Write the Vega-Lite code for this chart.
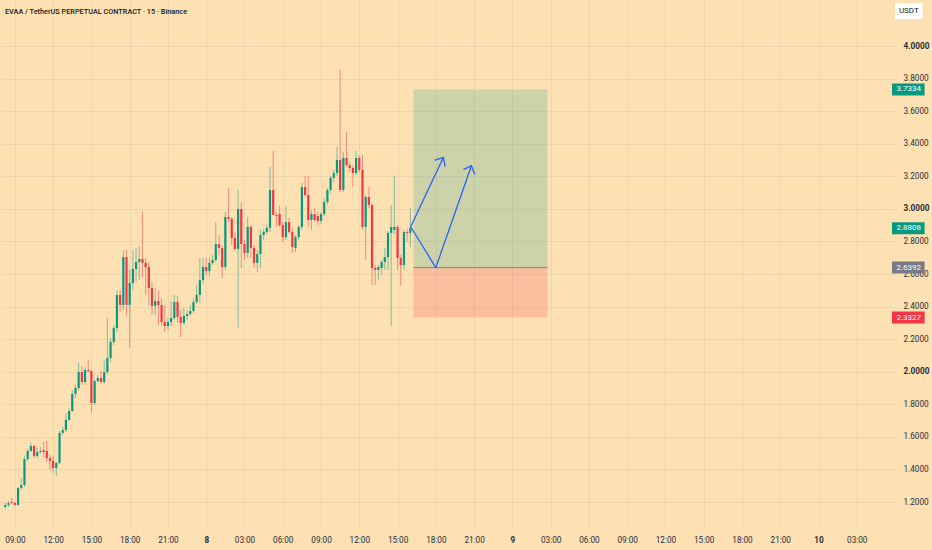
{
  "$schema": "https://vega.github.io/schema/vega-lite/v6.json",
  "width": 896,
  "height": 528,
  "autosize": "none",
  "padding": {"left": 0, "top": 0, "right": 36, "bottom": 22},
  "background": "#FDE1B3",
  "title": {"text": "EVAA / TetherUS PERPETUAL CONTRACT · 15 · Binance", "anchor": "start", "orient": "top", "frame": "group", "offset": -15, "dx": 5, "font": "Roboto", "fontSize": 7.3, "fontWeight": 500, "color": "#131722"},
  "config": {
    "font": "Roboto",
    "view": {"stroke": null},
    "axis": {"gridColor": "#2a2e39", "gridOpacity": 0.065, "ticks": false, "domain": false, "labelFont": "Roboto", "labelFontSize": 8.2, "labelColor": "#2a2e39", "labelOverlap": false, "labelFlush": false}
  },
  "datasets": {
    "candles": [
      {"t":"2025-07-07T08:15:00Z","o":1.169,"h":1.194,"l":1.157,"c":1.182},
      {"t":"2025-07-07T08:30:00Z","o":1.182,"h":1.206,"l":1.169,"c":1.194},
      {"t":"2025-07-07T08:45:00Z","o":1.200,"h":1.225,"l":1.188,"c":1.194},
      {"t":"2025-07-07T09:00:00Z","o":1.194,"h":1.200,"l":1.176,"c":1.182},
      {"t":"2025-07-07T09:15:00Z","o":1.182,"h":1.292,"l":1.176,"c":1.286},
      {"t":"2025-07-07T09:30:00Z","o":1.286,"h":1.348,"l":1.274,"c":1.305},
      {"t":"2025-07-07T09:45:00Z","o":1.305,"h":1.483,"l":1.292,"c":1.464},
      {"t":"2025-07-07T10:00:00Z","o":1.464,"h":1.526,"l":1.452,"c":1.513},
      {"t":"2025-07-07T10:15:00Z","o":1.513,"h":1.562,"l":1.507,"c":1.544},
      {"t":"2025-07-07T10:30:00Z","o":1.544,"h":1.550,"l":1.470,"c":1.483},
      {"t":"2025-07-07T10:45:00Z","o":1.483,"h":1.532,"l":1.470,"c":1.507},
      {"t":"2025-07-07T11:00:00Z","o":1.507,"h":1.538,"l":1.495,"c":1.513},
      {"t":"2025-07-07T11:15:00Z","o":1.519,"h":1.569,"l":1.476,"c":1.507},
      {"t":"2025-07-07T11:30:00Z","o":1.513,"h":1.575,"l":1.446,"c":1.470},
      {"t":"2025-07-07T11:45:00Z","o":1.470,"h":1.489,"l":1.397,"c":1.452},
      {"t":"2025-07-07T12:00:00Z","o":1.452,"h":1.483,"l":1.378,"c":1.409},
      {"t":"2025-07-07T12:15:00Z","o":1.409,"h":1.446,"l":1.360,"c":1.440},
      {"t":"2025-07-07T12:30:00Z","o":1.440,"h":1.636,"l":1.433,"c":1.624},
      {"t":"2025-07-07T12:45:00Z","o":1.624,"h":1.661,"l":1.612,"c":1.642},
      {"t":"2025-07-07T13:00:00Z","o":1.642,"h":1.747,"l":1.630,"c":1.704},
      {"t":"2025-07-07T13:15:00Z","o":1.704,"h":1.777,"l":1.698,"c":1.759},
      {"t":"2025-07-07T13:30:00Z","o":1.759,"h":1.888,"l":1.753,"c":1.863},
      {"t":"2025-07-07T13:45:00Z","o":1.863,"h":1.919,"l":1.839,"c":1.900},
      {"t":"2025-07-07T14:00:00Z","o":1.900,"h":2.054,"l":1.888,"c":1.998},
      {"t":"2025-07-07T14:15:00Z","o":1.998,"h":2.035,"l":1.919,"c":1.937},
      {"t":"2025-07-07T14:30:00Z","o":1.937,"h":2.029,"l":1.919,"c":2.011},
      {"t":"2025-07-07T14:45:00Z","o":2.011,"h":2.072,"l":1.998,"c":2.004},
      {"t":"2025-07-07T15:00:00Z","o":2.004,"h":2.011,"l":1.747,"c":1.808},
      {"t":"2025-07-07T15:15:00Z","o":1.808,"h":1.955,"l":1.796,"c":1.943},
      {"t":"2025-07-07T15:30:00Z","o":1.943,"h":1.980,"l":1.931,"c":1.962},
      {"t":"2025-07-07T15:45:00Z","o":1.962,"h":2.004,"l":1.925,"c":1.937},
      {"t":"2025-07-07T16:00:00Z","o":1.937,"h":2.072,"l":1.925,"c":1.998},
      {"t":"2025-07-07T16:15:00Z","o":1.998,"h":2.330,"l":1.986,"c":2.084},
      {"t":"2025-07-07T16:30:00Z","o":2.084,"h":2.207,"l":2.060,"c":2.183},
      {"t":"2025-07-07T16:45:00Z","o":2.183,"h":2.287,"l":2.164,"c":2.268},
      {"t":"2025-07-07T17:00:00Z","o":2.268,"h":2.502,"l":2.244,"c":2.471},
      {"t":"2025-07-07T17:15:00Z","o":2.471,"h":2.502,"l":2.367,"c":2.410},
      {"t":"2025-07-07T17:30:00Z","o":2.410,"h":2.747,"l":2.379,"c":2.704},
      {"t":"2025-07-07T17:45:00Z","o":2.704,"h":2.747,"l":2.348,"c":2.410},
      {"t":"2025-07-07T18:00:00Z","o":2.410,"h":2.625,"l":2.146,"c":2.545},
      {"t":"2025-07-07T18:15:00Z","o":2.545,"h":2.747,"l":2.502,"c":2.631},
      {"t":"2025-07-07T18:30:00Z","o":2.631,"h":2.760,"l":2.551,"c":2.674},
      {"t":"2025-07-07T18:45:00Z","o":2.674,"h":2.772,"l":2.563,"c":2.692},
      {"t":"2025-07-07T19:00:00Z","o":2.692,"h":2.981,"l":2.582,"c":2.668},
      {"t":"2025-07-07T19:15:00Z","o":2.668,"h":2.698,"l":2.471,"c":2.643},
      {"t":"2025-07-07T19:30:00Z","o":2.643,"h":2.674,"l":2.410,"c":2.514},
      {"t":"2025-07-07T19:45:00Z","o":2.514,"h":2.551,"l":2.348,"c":2.404},
      {"t":"2025-07-07T20:00:00Z","o":2.404,"h":2.514,"l":2.348,"c":2.434},
      {"t":"2025-07-07T20:15:00Z","o":2.434,"h":2.502,"l":2.287,"c":2.410},
      {"t":"2025-07-07T20:30:00Z","o":2.410,"h":2.453,"l":2.281,"c":2.305},
      {"t":"2025-07-07T20:45:00Z","o":2.305,"h":2.410,"l":2.244,"c":2.281},
      {"t":"2025-07-07T21:00:00Z","o":2.281,"h":2.330,"l":2.256,"c":2.305},
      {"t":"2025-07-07T21:15:00Z","o":2.305,"h":2.434,"l":2.281,"c":2.330},
      {"t":"2025-07-07T21:30:00Z","o":2.330,"h":2.471,"l":2.318,"c":2.428},
      {"t":"2025-07-07T21:45:00Z","o":2.428,"h":2.465,"l":2.299,"c":2.336},
      {"t":"2025-07-07T22:00:00Z","o":2.336,"h":2.379,"l":2.213,"c":2.299},
      {"t":"2025-07-07T22:15:00Z","o":2.299,"h":2.391,"l":2.287,"c":2.342},
      {"t":"2025-07-07T22:30:00Z","o":2.342,"h":2.379,"l":2.318,"c":2.354},
      {"t":"2025-07-07T22:45:00Z","o":2.354,"h":2.410,"l":2.342,"c":2.373},
      {"t":"2025-07-07T23:00:00Z","o":2.373,"h":2.453,"l":2.361,"c":2.428},
      {"t":"2025-07-07T23:15:00Z","o":2.428,"h":2.533,"l":2.416,"c":2.471},
      {"t":"2025-07-07T23:30:00Z","o":2.471,"h":2.698,"l":2.422,"c":2.563},
      {"t":"2025-07-07T23:45:00Z","o":2.563,"h":2.698,"l":2.539,"c":2.643},
      {"t":"2025-07-08T00:00:00Z","o":2.643,"h":2.698,"l":2.594,"c":2.618},
      {"t":"2025-07-08T00:15:00Z","o":2.618,"h":2.698,"l":2.588,"c":2.668},
      {"t":"2025-07-08T00:30:00Z","o":2.668,"h":2.717,"l":2.655,"c":2.686},
      {"t":"2025-07-08T00:45:00Z","o":2.686,"h":2.919,"l":2.674,"c":2.784},
      {"t":"2025-07-08T01:00:00Z","o":2.784,"h":2.840,"l":2.717,"c":2.760},
      {"t":"2025-07-08T01:15:00Z","o":2.760,"h":2.778,"l":2.575,"c":2.643},
      {"t":"2025-07-08T01:30:00Z","o":2.643,"h":2.981,"l":2.625,"c":2.950},
      {"t":"2025-07-08T01:45:00Z","o":2.950,"h":3.128,"l":2.919,"c":2.938},
      {"t":"2025-07-08T02:00:00Z","o":2.938,"h":2.950,"l":2.778,"c":2.821},
      {"t":"2025-07-08T02:15:00Z","o":2.821,"h":2.858,"l":2.747,"c":2.754},
      {"t":"2025-07-08T02:30:00Z","o":2.754,"h":3.116,"l":2.268,"c":2.999},
      {"t":"2025-07-08T02:45:00Z","o":2.999,"h":3.042,"l":2.637,"c":2.784},
      {"t":"2025-07-08T03:00:00Z","o":2.784,"h":2.809,"l":2.686,"c":2.729},
      {"t":"2025-07-08T03:15:00Z","o":2.729,"h":2.950,"l":2.698,"c":2.889},
      {"t":"2025-07-08T03:30:00Z","o":2.889,"h":2.901,"l":2.698,"c":2.760},
      {"t":"2025-07-08T03:45:00Z","o":2.760,"h":2.778,"l":2.637,"c":2.668},
      {"t":"2025-07-08T04:00:00Z","o":2.668,"h":2.747,"l":2.612,"c":2.723},
      {"t":"2025-07-08T04:15:00Z","o":2.723,"h":2.870,"l":2.637,"c":2.840},
      {"t":"2025-07-08T04:30:00Z","o":2.840,"h":2.876,"l":2.809,"c":2.858},
      {"t":"2025-07-08T04:45:00Z","o":2.858,"h":2.901,"l":2.846,"c":2.883},
      {"t":"2025-07-08T05:00:00Z","o":2.883,"h":3.257,"l":2.858,"c":3.116},
      {"t":"2025-07-08T05:15:00Z","o":3.116,"h":3.355,"l":3.104,"c":2.962},
      {"t":"2025-07-08T05:30:00Z","o":2.962,"h":2.981,"l":2.889,"c":2.956},
      {"t":"2025-07-08T05:45:00Z","o":2.968,"h":3.018,"l":2.889,"c":2.901},
      {"t":"2025-07-08T06:00:00Z","o":2.901,"h":2.919,"l":2.797,"c":2.827},
      {"t":"2025-07-08T06:15:00Z","o":2.827,"h":3.018,"l":2.809,"c":2.919},
      {"t":"2025-07-08T06:30:00Z","o":2.919,"h":2.944,"l":2.846,"c":2.858},
      {"t":"2025-07-08T06:45:00Z","o":2.858,"h":2.883,"l":2.729,"c":2.766},
      {"t":"2025-07-08T07:00:00Z","o":2.760,"h":2.840,"l":2.735,"c":2.827},
      {"t":"2025-07-08T07:15:00Z","o":2.827,"h":2.901,"l":2.809,"c":2.889},
      {"t":"2025-07-08T07:30:00Z","o":2.889,"h":3.159,"l":2.870,"c":3.134},
      {"t":"2025-07-08T07:45:00Z","o":3.134,"h":3.202,"l":3.073,"c":3.085},
      {"t":"2025-07-08T08:00:00Z","o":3.085,"h":3.202,"l":2.889,"c":2.932},
      {"t":"2025-07-08T08:15:00Z","o":2.932,"h":2.993,"l":2.870,"c":2.968},
      {"t":"2025-07-08T08:30:00Z","o":2.968,"h":3.005,"l":2.919,"c":2.932},
      {"t":"2025-07-08T08:45:00Z","o":2.956,"h":2.981,"l":2.901,"c":2.926},
      {"t":"2025-07-08T09:00:00Z","o":2.926,"h":2.981,"l":2.907,"c":2.968},
      {"t":"2025-07-08T09:15:00Z","o":2.968,"h":3.067,"l":2.956,"c":3.042},
      {"t":"2025-07-08T09:30:00Z","o":3.042,"h":3.128,"l":3.024,"c":3.116},
      {"t":"2025-07-08T09:45:00Z","o":3.116,"h":3.202,"l":3.097,"c":3.190},
      {"t":"2025-07-08T10:00:00Z","o":3.190,"h":3.239,"l":3.165,"c":3.220},
      {"t":"2025-07-08T10:15:00Z","o":3.220,"h":3.380,"l":3.202,"c":3.300},
      {"t":"2025-07-08T10:30:00Z","o":3.300,"h":3.853,"l":3.104,"c":3.116},
      {"t":"2025-07-08T10:45:00Z","o":3.116,"h":3.349,"l":3.104,"c":3.312},
      {"t":"2025-07-08T11:00:00Z","o":3.312,"h":3.472,"l":3.257,"c":3.269},
      {"t":"2025-07-08T11:15:00Z","o":3.269,"h":3.288,"l":3.226,"c":3.251},
      {"t":"2025-07-08T11:30:00Z","o":3.251,"h":3.269,"l":3.134,"c":3.220},
      {"t":"2025-07-08T11:45:00Z","o":3.220,"h":3.355,"l":3.208,"c":3.312},
      {"t":"2025-07-08T12:00:00Z","o":3.312,"h":3.331,"l":3.226,"c":3.239},
      {"t":"2025-07-08T12:15:00Z","o":3.239,"h":3.331,"l":2.876,"c":2.889},
      {"t":"2025-07-08T12:30:00Z","o":2.889,"h":3.085,"l":2.686,"c":3.073},
      {"t":"2025-07-08T12:45:00Z","o":3.073,"h":3.134,"l":3.005,"c":3.024},
      {"t":"2025-07-08T13:00:00Z","o":3.024,"h":3.036,"l":2.533,"c":2.637},
      {"t":"2025-07-08T13:15:00Z","o":2.637,"h":2.655,"l":2.533,"c":2.625},
      {"t":"2025-07-08T13:30:00Z","o":2.625,"h":2.655,"l":2.563,"c":2.643},
      {"t":"2025-07-08T13:45:00Z","o":2.637,"h":2.686,"l":2.594,"c":2.674},
      {"t":"2025-07-08T14:00:00Z","o":2.674,"h":2.760,"l":2.625,"c":2.704},
      {"t":"2025-07-08T14:15:00Z","o":2.704,"h":2.864,"l":2.625,"c":2.852},
      {"t":"2025-07-08T14:30:00Z","o":2.852,"h":3.024,"l":2.281,"c":2.889},
      {"t":"2025-07-08T14:45:00Z","o":2.870,"h":3.202,"l":2.846,"c":2.889},
      {"t":"2025-07-08T15:00:00Z","o":2.889,"h":2.901,"l":2.625,"c":2.698},
      {"t":"2025-07-08T15:15:00Z","o":2.698,"h":2.717,"l":2.526,"c":2.655},
      {"t":"2025-07-08T15:30:00Z","o":2.655,"h":2.870,"l":2.625,"c":2.858},
      {"t":"2025-07-08T15:45:00Z","o":2.858,"h":2.876,"l":2.797,"c":2.852},
      {"t":"2025-07-08T16:00:00Z","o":2.852,"h":3.005,"l":2.766,"c":2.8808}
    ],
    "zones": [
      {"zone":"target","t1":"2025-07-08T16:15:00Z","t2":"2025-07-09T02:45:00Z","p1":2.6392,"p2":3.7334},
      {"zone":"stop","t1":"2025-07-08T16:15:00Z","t2":"2025-07-09T02:45:00Z","p1":2.3327,"p2":2.6392}
    ],
    "arrows": [
      {"seg":"a1","i":0,"t":"2025-07-08T16:01:48Z","p":2.890},
      {"seg":"a1","i":1,"t":"2025-07-08T18:35:24Z","p":3.316},
      {"seg":"h1","i":0,"t":"2025-07-08T17:56:46Z","p":3.300},
      {"seg":"h1","i":1,"t":"2025-07-08T18:35:24Z","p":3.316},
      {"seg":"h1","i":2,"t":"2025-07-08T18:43:12Z","p":3.263},
      {"seg":"a2","i":0,"t":"2025-07-08T16:01:48Z","p":2.890},
      {"seg":"a2","i":1,"t":"2025-07-08T18:00:00Z","p":2.6392},
      {"seg":"a2","i":2,"t":"2025-07-08T20:47:24Z","p":3.265},
      {"seg":"h2","i":0,"t":"2025-07-08T20:11:38Z","p":3.243},
      {"seg":"h2","i":1,"t":"2025-07-08T20:47:24Z","p":3.265},
      {"seg":"h2","i":2,"t":"2025-07-08T21:02:48Z","p":3.214}
    ],
    "tags": [
      {"kind":"target","p":3.7334},
      {"kind":"last","p":2.8808},
      {"kind":"entry","p":2.6392},
      {"kind":"stop","p":2.3327}
    ]
  },
  "layer": [
    {
      "data": {"name": "candles", "format": {"parse": {"t": "date"}}},
      "mark": {"type": "rule", "strokeWidth": 1, "opacity": 0.5},
      "encoding": {
        "x": {"field": "t", "type": "quantitative", "title": null,
          "scale": {"domain": [1751876009000, 1752126060000], "nice": false, "zero": false},
          "axis": {"orient": "bottom", "grid": true, "labelPadding": 8, "labelOverlap": false,
            "values": [1751878800000,1751889600000,1751900400000,1751911200000,1751922000000,1751932800000,1751943600000,1751954400000,1751965200000,1751976000000,1751986800000,1751997600000,1752008400000,1752019200000,1752030000000,1752040800000,1752051600000,1752062400000,1752073200000,1752084000000,1752094800000,1752105600000,1752116400000],
            "labelExpr": "utchours(datum.value) === 0 ? utcFormat(datum.value, '%-d') : utcFormat(datum.value, '%H:%M')",
            "labelFontWeight": {"condition": {"test": "utchours(datum.value) === 0", "value": "bold"}, "value": "normal"}}},
        "y": {"field": "l", "type": "quantitative", "title": null,
          "scale": {"domain": [1.0404, 4.2825], "nice": false, "zero": false},
          "axis": {"orient": "right", "grid": true, "values": [1.2,1.4,1.6,1.8,2.0,2.2,2.4,2.6,2.8,3.0,3.2,3.4,3.6,3.8,4.0], "tickCount": 16, "labelOverlap": false, "format": ".4f", "labelPadding": 7,
            "labelFontWeight": {"condition": {"test": "abs(datum.value - round(datum.value)) < 0.001", "value": "bold"}, "value": "normal"}}},
        "y2": {"field": "h"},
        "color": {"condition": {"test": "datum.c >= datum.o", "value": "#089981"}, "value": "#F23645"}
      }
    },
    {
      "data": {"name": "zones", "format": {"parse": {"t1": "date", "t2": "date"}}},
      "mark": {"type": "rect", "opacity": 0.2},
      "encoding": {
        "x": {"field": "t1", "type": "quantitative"},
        "x2": {"field": "t2"},
        "y": {"field": "p1", "type": "quantitative"},
        "y2": {"field": "p2"},
        "color": {"condition": {"test": "datum.zone === 'stop'", "value": "#F23645"}, "value": "#089981"}
      }
    },
    {
      "data": {"name": "zones", "format": {"parse": {"t1": "date", "t2": "date"}}},
      "transform": [{"filter": "datum.zone === 'target'"}],
      "mark": {"type": "rule", "color": "#787B86", "strokeWidth": 1, "opacity": 0.9},
      "encoding": {
        "x": {"field": "t1", "type": "quantitative"},
        "x2": {"field": "t2"},
        "y": {"field": "p1", "type": "quantitative"}
      }
    },
    {
      "mark": {"type": "rule", "color": "#089981", "strokeDash": [1, 2], "strokeWidth": 1, "opacity": 0.55},
      "encoding": {"y": {"datum": 2.8808, "type": "quantitative"}}
    },
    {
      "data": {"name": "candles", "format": {"parse": {"t": "date"}}},
      "mark": {"type": "bar", "width": 2.2},
      "encoding": {
        "x": {"field": "t", "type": "quantitative"},
        "y": {"field": "o", "type": "quantitative"},
        "y2": {"field": "c"},
        "color": {"condition": {"test": "datum.c >= datum.o", "value": "#089981"}, "value": "#F23645"}
      }
    },
    {
      "data": {"name": "arrows", "format": {"parse": {"t": "date"}}},
      "mark": {"type": "line", "color": "#2962FF", "strokeWidth": 1.3, "strokeCap": "round", "strokeJoin": "round"},
      "encoding": {
        "x": {"field": "t", "type": "quantitative"},
        "y": {"field": "p", "type": "quantitative"},
        "detail": {"field": "seg"},
        "order": {"field": "i"}
      }
    },
    {
      "data": {"name": "tags"},
      "mark": {"type": "rule", "strokeWidth": 12, "strokeCap": "butt", "opacity": 1},
      "encoding": {
        "x": {"datum": 1752126339000, "type": "quantitative"},
        "x2": {"datum": 1752135549000},
        "y": {"field": "p", "type": "quantitative"},
        "color": {"condition": [{"test": "datum.kind === 'stop'", "value": "#F23645"}, {"test": "datum.kind === 'entry'", "value": "#787B86"}], "value": "#089981"}
      }
    },
    {
      "data": {"name": "tags"},
      "mark": {"type": "text", "color": "white", "fontSize": 8, "align": "center", "baseline": "middle", "font": "Roboto"},
      "encoding": {
        "x": {"datum": 1752131083000, "type": "quantitative"},
        "y": {"field": "p", "type": "quantitative"},
        "text": {"field": "p", "type": "quantitative", "format": ".4f"}
      }
    },
    {
      "data": {"values": [{"unit": "USDT"}]},
      "mark": {"type": "rule", "strokeWidth": 16, "strokeCap": "butt", "color": "#FFFFFF", "opacity": 1},
      "encoding": {
        "x": {"datum": 1752127176000, "type": "quantitative"},
        "x2": {"datum": 1752134990000},
        "y": {"datum": 4.215, "type": "quantitative"}
      }
    },
    {
      "data": {"values": [{"unit": "USDT"}]},
      "mark": {"type": "text", "color": "#131722", "fontSize": 8, "align": "center", "baseline": "middle", "font": "Roboto"},
      "encoding": {
        "x": {"datum": 1752131083000, "type": "quantitative"},
        "y": {"datum": 4.215, "type": "quantitative"},
        "text": {"field": "unit", "type": "nominal"}
      }
    }
  ]
}
